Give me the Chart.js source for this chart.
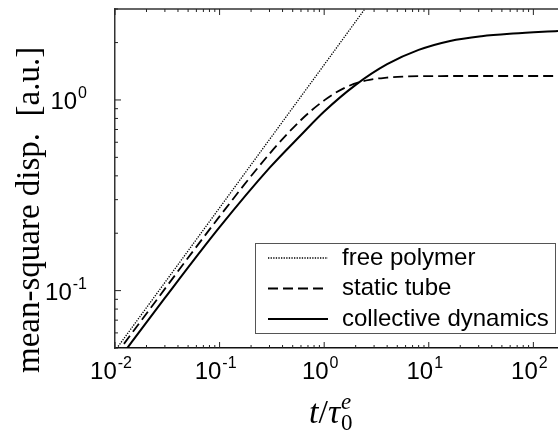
<!DOCTYPE html>
<html><head><meta charset="utf-8">
<script src="https://cdn.jsdelivr.net/npm/chart.js@4.4.1/dist/chart.umd.min.js"></script>
<style>html,body{margin:0;padding:0;background:#fff;overflow:hidden}canvas{display:block}</style>
</head><body>
<canvas id="c" width="558" height="431"></canvas>
<script>
// ---- data ----
const seriesLabels = ['free polymer', 'static tube', 'collective dynamics'];
const freeT = [0.01, 0.1, 1, 2.5];
const freeY = [0.0484, 0.272, 1.53, 3.05];
const tubeT = [0.01, 0.1, 0.3, 0.6, 1, 1.58, 2.51, 3.98, 6.3, 10, 30, 172];
const tubeY = [0.0455, 0.245, 0.522, 0.785, 0.995, 1.16, 1.265, 1.31, 1.328, 1.334, 1.336, 1.336];
const collT = [0.01, 0.03, 0.1, 0.3, 0.6, 1, 2, 4, 8, 16, 32, 64, 172];
const collY = [0.041, 0.0915, 0.215, 0.44, 0.655, 0.87, 1.20, 1.54, 1.83, 2.04, 2.16, 2.23, 2.30];
const xTickValues = [0.01, 0.1, 1, 10, 100];
const xTickExps = ['-2', '-1', '0', '1', '2'];
const yTickValues = [0.1, 1];
const yTickExps = ['-1', '0'];
const xRange = [0.01, 172];
const yRange = [0.05, 3];
const yTitle = 'mean-square disp.  [a.u.]';

const pts = (t, v) => t.map((x, i) => ({x, y: v[i]}));

function logTicks(min, max) {
  const out = [];
  const e0 = Math.floor(Math.log10(min)), e1 = Math.ceil(Math.log10(max));
  for (let e = e0; e <= e1; e++) {
    for (let s = 1; s <= 9; s++) {
      const v = +(s * Math.pow(10, e)).toPrecision(6);
      if (v >= min * 0.9999 && v <= max * 1.0001) out.push({value: v, major: s === 1});
    }
  }
  return out;
}

const SANS = '"Liberation Sans", Arial, sans-serif';
const SERIF = '"Liberation Serif", "Times New Roman", serif';

function powLabel(ctx, exp, x, baseY, align) {
  ctx.font = '24px ' + SANS;
  const wb = ctx.measureText('10').width;
  ctx.font = '16px ' + SANS;
  const ws = ctx.measureText(exp).width;
  const total = wb + ws + 1;
  let x0 = align === 'right' ? x - total : x - total / 2;
  ctx.textAlign = 'left';
  ctx.textBaseline = 'alphabetic';
  ctx.font = '24px ' + SANS;
  ctx.fillText('10', x0, baseY);
  ctx.font = '16px ' + SANS;
  ctx.fillText(exp, x0 + wb + 1, baseY - 11);
}

const decor = {
  id: 'decor',
  afterDatasetsDraw(chart) {
    const {ctx, chartArea: a, scales: {x, y}} = chart;
    ctx.save();
    ctx.strokeStyle = '#333';
    ctx.lineWidth = 1.5;
    ctx.beginPath(); ctx.moveTo(a.left, a.top); ctx.lineTo(a.right, a.top); ctx.stroke();
    ctx.lineWidth = 1;
    ctx.strokeStyle = '#222';
    x.ticks.forEach(t => {
      const px = x.getPixelForValue(t.value);
      const L = t.major ? 6 : 3;
      ctx.beginPath();
      ctx.moveTo(px, a.bottom); ctx.lineTo(px, a.bottom - L);
      ctx.moveTo(px, a.top); ctx.lineTo(px, a.top + L);
      ctx.stroke();
    });
    y.ticks.forEach(t => {
      const py = y.getPixelForValue(t.value);
      const L = t.major ? 6 : 3;
      ctx.beginPath();
      ctx.moveTo(a.left, py); ctx.lineTo(a.left + L, py);
      ctx.stroke();
    });
    // tick labels
    ctx.fillStyle = '#000';
    xTickValues.forEach((v, i) => {
      powLabel(ctx, xTickExps[i], x.getPixelForValue(v) - 4, a.bottom + 31, 'center');
    });
    yTickValues.forEach((v, i) => {
      powLabel(ctx, yTickExps[i], 87, y.getPixelForValue(v) + 9, 'right');
    });
    // legend inside plot
    const bx = a.right - 303, by = a.bottom - 105, bw = 300, bh = 90;
    ctx.fillStyle = '#fff';
    ctx.fillRect(bx, by, bw, bh);
    ctx.strokeStyle = '#555';
    ctx.lineWidth = 1;
    ctx.strokeRect(bx + 0.5, by + 0.5, bw, bh);
    ctx.font = '24px ' + SANS;
    ctx.textBaseline = 'middle';
    ctx.textAlign = 'left';
    chart.data.datasets.forEach((ds, i) => {
      const ry = by + 15 + i * 30.5;
      ctx.save();
      ctx.strokeStyle = ds.borderColor;
      ctx.lineWidth = ds.borderWidth;
      ctx.setLineDash(ds.borderDash || []);
      ctx.beginPath(); ctx.moveTo(bx + 13, ry); ctx.lineTo(bx + 73, ry); ctx.stroke();
      ctx.restore();
      ctx.fillStyle = '#000';
      ctx.fillText(ds.label, bx + 87, ry);
    });
    // y title
    ctx.save();
    ctx.font = '33px ' + SERIF;
    ctx.fillStyle = '#000';
    ctx.translate(39, 373);
    ctx.rotate(-Math.PI / 2);
    ctx.textAlign = 'left';
    ctx.textBaseline = 'alphabetic';
    ctx.fillText(yTitle, 0, 0);
    ctx.restore();
    // x title  t/τ_0^e
    ctx.fillStyle = '#000';
    ctx.textAlign = 'left';
    ctx.textBaseline = 'alphabetic';
    let cx = 309; const base = 423;
    ctx.font = 'italic 34px ' + SERIF;
    ctx.fillText('t', cx, base); cx += ctx.measureText('t').width;
    ctx.font = '34px ' + SERIF;
    ctx.fillText('/', cx, base); cx += ctx.measureText('/').width;
    ctx.font = 'italic 34px ' + SERIF;
    ctx.fillText('τ', cx, base); cx += ctx.measureText('τ').width + 1;
    ctx.font = 'italic 23px ' + SERIF;
    ctx.fillText('e', cx, base - 14);
    ctx.font = '23px ' + SERIF;
    ctx.fillText('0', cx, base + 7);
    ctx.restore();
  }
};

new Chart(document.getElementById('c'), {
  type: 'scatter',
  data: {
    datasets: [
      {label: seriesLabels[0], data: pts(freeT, freeY), showLine: true, borderColor: '#000', borderWidth: 1.3, borderDash: [1.3, 1.3], pointRadius: 0, fill: false},
      {label: seriesLabels[1], data: pts(tubeT, tubeY), showLine: true, borderColor: '#000', borderWidth: 1.8, borderDash: [10, 5], pointRadius: 0, fill: false, cubicInterpolationMode: 'monotone'},
      {label: seriesLabels[2], data: pts(collT, collY), showLine: true, borderColor: '#000', borderWidth: 2, pointRadius: 0, fill: false, cubicInterpolationMode: 'monotone'}
    ]
  },
  options: {
    responsive: false,
    animation: false,
    layout: {padding: {top: 9, right: 0, bottom: 0, left: 0}},
    plugins: {legend: {display: false}, tooltip: {enabled: false}},
    scales: {
      x: {
        type: 'logarithmic', min: xRange[0], max: xRange[1],
        afterBuildTicks: s => { s.ticks = logTicks(xRange[0], xRange[1]); },
        afterFit: s => { s.height = 83; s.paddingLeft = 0; s.paddingRight = 0; s.paddingTop = 0; s.paddingBottom = 0; },
        grid: {display: true, drawOnChartArea: false, drawTicks: false},
        border: {display: true, color: '#111', width: 1.5},
        ticks: {display: false, autoSkip: false}
      },
      y: {
        type: 'logarithmic', min: yRange[0], max: yRange[1],
        afterBuildTicks: s => { s.ticks = logTicks(yRange[0], yRange[1]); },
        afterFit: s => { s.width = 115; s.paddingLeft = 0; s.paddingRight = 0; s.paddingTop = 0; s.paddingBottom = 0; },
        grid: {display: true, drawOnChartArea: false, drawTicks: false},
        border: {display: true, color: '#333', width: 1.5},
        ticks: {display: false, autoSkip: false}
      }
    }
  },
  plugins: [decor]
});
</script>
</body></html>
